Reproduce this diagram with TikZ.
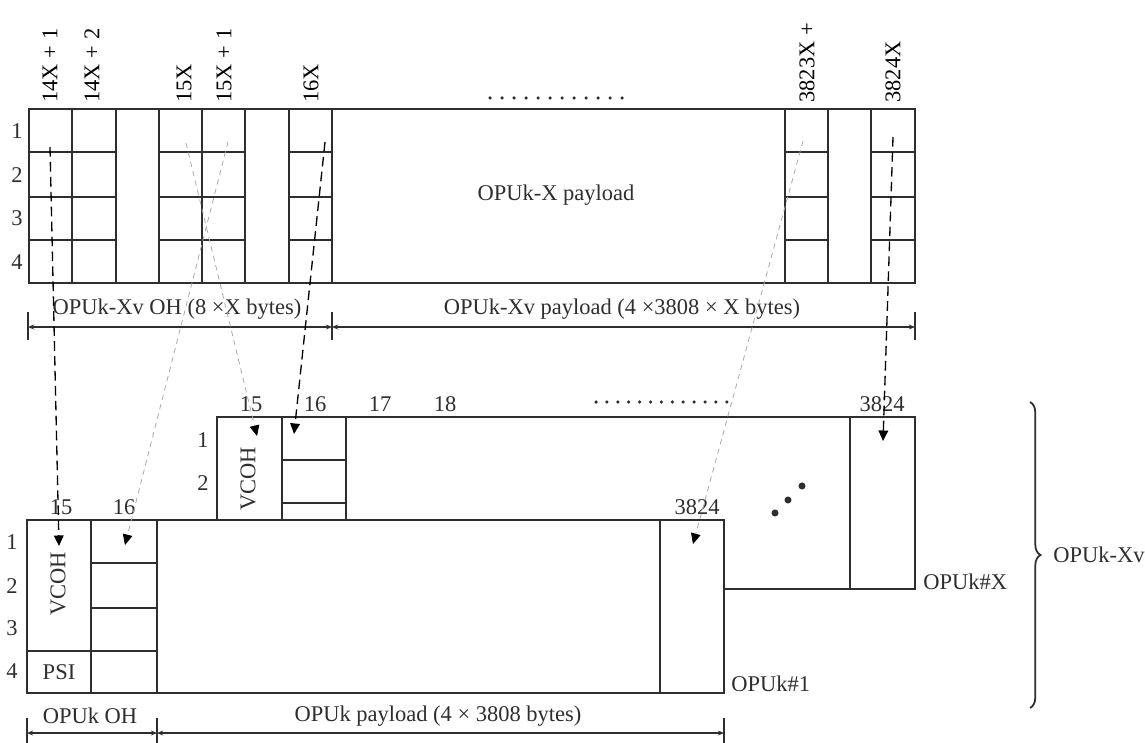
\documentclass[tikz,border=0pt]{standalone}
\usepackage{fontspec}
\setmainfont{Liberation Serif}
\usepackage{tikz}
\usetikzlibrary{arrows.meta,calc,positioning,decorations.pathreplacing}
\definecolor{framec}{HTML}{2E2E2E}
\definecolor{faint}{HTML}{A9A9A9}

\begin{document}
\begin{tikzpicture}[x=0.02cm,y=-0.02cm,font=\fontsize{12.8}{15}\selectfont,
  frame/.style={draw=framec,line width=0.75pt},
  collabel/.style={rotate=90,anchor=west,inner sep=0pt},
  plain/.style={inner sep=0pt,text=framec},
  bytemap/.style={line width=0.75pt,dash pattern=on 5.5pt off 3pt,-{Triangle[length=6pt,width=5.5pt,color=black]}},
  fadedmap/.style={draw=faint,line width=0.45pt,dash pattern=on 3pt off 2.5pt,-{Triangle[length=6pt,width=5.5pt,color=black]}},
  dimline/.style={draw=framec,line width=0.6pt,{Stealth[length=3.5pt,width=2.8pt]}-{Stealth[length=3.5pt,width=2.8pt]}},
  tick/.style={draw=framec,line width=0.6pt}]
\fill[white] (0,0) rectangle (1145,743);
\useasboundingbox (0,0) rectangle (1145,743);
\draw[frame] (29,109) rectangle (915,283);
\foreach \cx in {72,116,159,202,245,289,332,785,828,871}
  \draw[frame] (\cx,109) -- (\cx,283);
\foreach \ry in {152,197,240}{
  \draw[frame] (29,\ry) -- (116,\ry);
  \draw[frame] (159,\ry) -- (245,\ry);
  \draw[frame] (289,\ry) -- (332,\ry);
  \draw[frame] (785,\ry) -- (828,\ry);
  \draw[frame] (871,\ry) -- (915,\ry);
}
\node[collabel] (hdA) at (50,103) {14X + 1};
\node[collabel] (hdB) at (92,103) {14X + 2};
\node[collabel] (hdC) at (184,103) {15X};
\node[collabel] (hdD) at (224,103) {15X + 1};
\node[collabel] (hdE) at (311,103) {16X};
\node[collabel] (hdF) at (807,103) {3823X +};
\node[collabel] (hdG) at (893,103) {3824X};
\foreach \i in {0,...,11}
  \fill[framec] (490+\i*12,98) circle (1pt);
\foreach \r/\ry in {1/131,2/175,3/218,4/262}
  \node[plain] (tr\r) at (17,\ry) {\r};
\node[plain] (xpay) at (556,195) {OPUk-X payload};
\coordinate (tdA) at (28,327);
\coordinate (tdB) at (332,327);
\coordinate (tdC) at (915,327);
\foreach \c in {tdA,tdB,tdC}
  \draw[tick] ($(\c)+(0,-15)$) -- ($(\c)+(0,13)$);
\draw[dimline] (tdA) -- (tdB);
\draw[dimline] (tdB) -- (tdC);
\node[plain] (xvoh) at (177,309) {OPUk-Xv OH (8 ×X bytes)};
\node[plain] (xvpay) at (622,309) {OPUk-Xv payload (4 ×3808 × X bytes)};
\filldraw[frame,fill=white] (217,417) rectangle (915,589);
\foreach \cx in {282,346,850}
  \draw[frame] (\cx,417) -- (\cx,589);
\foreach \ry in {460,503,546}
  \draw[frame] (282,\ry) -- (346,\ry);
\node[plain,rotate=90] (vcohX) at (248,479) {VCOH};
\foreach \r/\ry in {1/440,2/483}
  \node[plain] (xr\r) at (203,\ry) {\r};
\foreach \t/\cx in {15/251,16/315,17/380,18/445,3824/882}
  \node[plain] (xc\t) at (\cx,404) {\t};
\foreach \i in {0,...,12}
  \fill[framec] (596+\i*10.9,402) circle (1pt);
\filldraw[frame,fill=white] (27,520) rectangle (724,693);
\foreach \cx in {91,157,660}
  \draw[frame] (\cx,520) -- (\cx,693);
\draw[frame] (27,651) -- (91,651);
\foreach \ry in {563,608,651}
  \draw[frame] (91,\ry) -- (157,\ry);
\node[plain,rotate=90] (vcohA) at (58,584) {VCOH};
\node[plain] (psi) at (59,672) {PSI};
\foreach \r/\ry in {1/542,2/586,3/628,4/671}
  \node[plain] (ar\r) at (12,\ry) {\r};
\foreach \t/\cx in {15/61,16/124,3824/697}
  \node[plain] (ac\t) at (\cx,507) {\t};
\node[plain,anchor=west] (nameA) at (731,684) {OPUk\#1};
\node[plain,anchor=west] (nameX) at (923,582) {OPUk\#X};
\foreach \dx/\dy in {775/513,788/500,802/486}
  \fill[framec] (\dx,\dy) circle (2pt);
\coordinate (bdA) at (27,733);
\coordinate (bdB) at (157,733);
\coordinate (bdC) at (724,733);
\foreach \c in {bdA,bdB,bdC}
  \draw[tick] ($(\c)+(0,-15)$) -- ($(\c)+(0,12)$);
\draw[dimline] (bdA) -- (bdB);
\draw[dimline] (bdB) -- (bdC);
\node[plain] (ohA) at (90,716) {OPUk OH};
\node[plain] (payA) at (438,716) {OPUk payload (4 × 3808 bytes)};
\coordinate (brT) at (1030,402);
\coordinate (brB) at (1030,708);
\draw[framec,line width=1pt,decorate,decoration={brace,amplitude=6pt}] (brT) -- (brB);
\node[plain,anchor=west] (xv) at (1053,555) {OPUk-Xv};
\coordinate (sA) at (50,147);
\coordinate (eA) at (59,546);
\coordinate (sB) at (228,142);
\coordinate (eB) at (125,545);
\coordinate (sC) at (186,143);
\coordinate (eC) at (257,436);
\coordinate (sD) at (325,142);
\coordinate (eD) at (294,434);
\coordinate (sE) at (803,141);
\coordinate (eE) at (693,544);
\coordinate (sF) at (893,137);
\coordinate (eF) at (883,441);
\draw[bytemap] (sA) -- (eA);
\draw[fadedmap] (sB) -- (eB);
\draw[fadedmap] (sC) -- (eC);
\draw[bytemap] (sD) -- (eD);
\draw[fadedmap] (sE) -- (eE);
\draw[bytemap] (sF) -- (eF);
\end{tikzpicture}
\end{document}
